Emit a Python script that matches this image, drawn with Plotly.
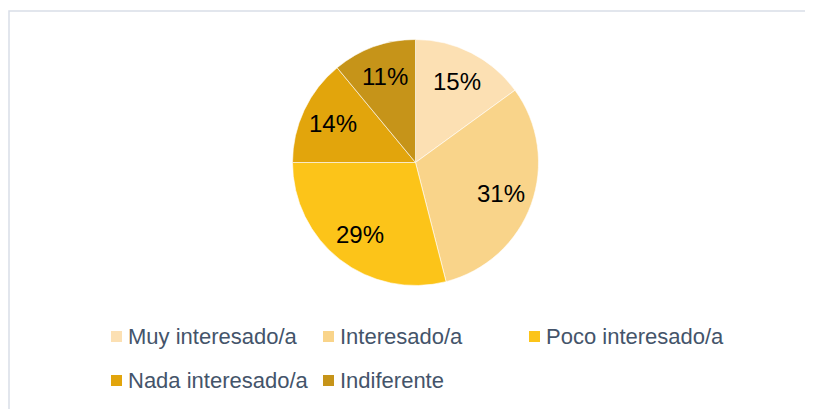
import math
import plotly.graph_objects as go

categories = ["Muy interesado/a", "Interesado/a", "Poco interesado/a",
              "Nada interesado/a", "Indiferente"]
values = [15, 31, 29, 14, 11]
colors = ["#FCE0B3", "#F9D48A", "#FCC419", "#E2A50C", "#C69419"]

W, H = 813, 409
OFF = 8  # page body margin
cx, cy, r = 415.5 - OFF, 162.5 - OFF, 123


def px(x):
    return x / W


def py(y):
    return 1 - y / H


fig = go.Figure(go.Pie(
    labels=categories,
    values=values,
    sort=False,
    direction="clockwise",
    rotation=0,
    marker=dict(colors=colors, line=dict(color="#FFFFFF", width=0.6)),
    textinfo="none",
    domain=dict(x=[px(cx - r), px(cx + r)], y=[py(cy + r), py(cy - r)]),
    showlegend=False,
    hoverinfo="label+percent",
))

shapes = [dict(type="rect", xref="paper", yref="paper",
               x0=px(1), x1=1.2, y0=-0.2, y1=py(3),
               line=dict(color="#D9DEE8", width=1.5), fillcolor="rgba(0,0,0,0)", layer="below")]
annotations = []

# percentage labels placed along each slice's mid-angle
total = sum(values)
cum = 0
for v in values:
    mid = (cum + v / 2) / total * 2 * math.pi
    cum += v
    rr = 0.74 * r
    annotations.append(dict(xref="paper", yref="paper",
                            x=px(cx + rr * math.sin(mid)), y=py(cy - rr * math.cos(mid)),
                            xanchor="center", yanchor="middle", showarrow=False,
                            text=f"{round(v / total * 100)}%",
                            font=dict(family="Liberation Sans", size=24, color="#000000")))

# manual legend (two rows, as in the reference)
legend_pos = [(111, 336), (323, 336), (529, 336), (111, 380), (323, 380)]
for (lx, ly), name, col in zip(legend_pos, categories, colors):
    lx -= OFF
    ly -= OFF
    shapes.append(dict(type="rect", xref="paper", yref="paper",
                       x0=px(lx), x1=px(lx + 11),
                       y0=py(ly + 6), y1=py(ly - 5),
                       line=dict(width=0), fillcolor=col))
    annotations.append(dict(xref="paper", yref="paper", x=px(lx + 15), y=py(ly),
                            xanchor="left", yanchor="middle", showarrow=False, text=name,
                            font=dict(family="Liberation Sans", size=22, color="#44546A")))

fig.update_layout(
    width=W, height=H,
    margin=dict(l=0, r=0, t=0, b=0),
    paper_bgcolor="#FFFFFF",
    plot_bgcolor="#FFFFFF",
    shapes=shapes,
    annotations=annotations,
)

fig.write_html("out.html")
